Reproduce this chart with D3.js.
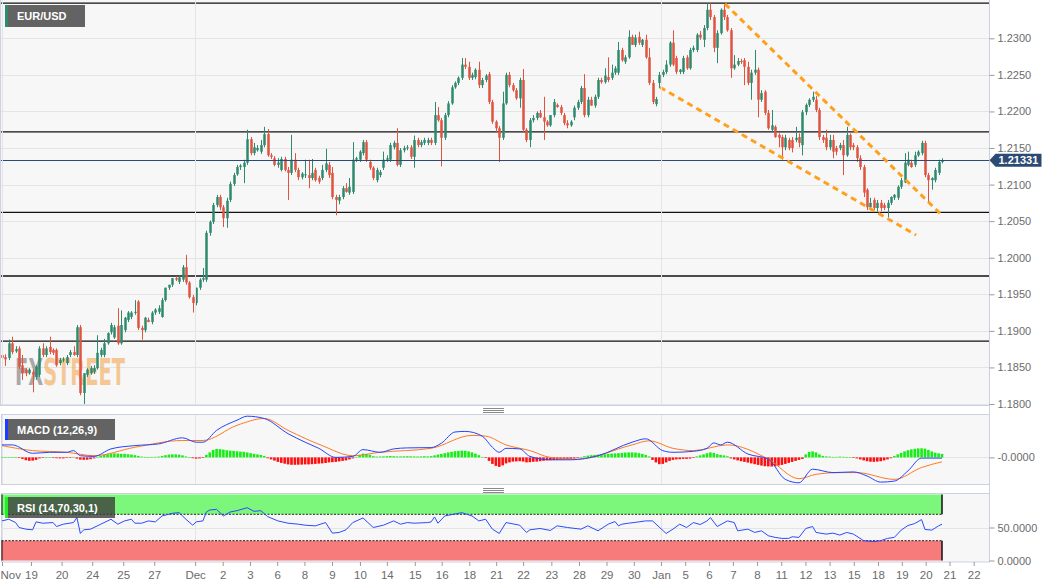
<!DOCTYPE html>
<html><head><meta charset="utf-8">
<script src="https://cdn.jsdelivr.net/npm/d3@7"></script>
<style>
html,body{margin:0;padding:0;background:#fff;}
svg{display:block;font-family:"Liberation Sans",Arial,sans-serif;}
</style></head><body>
<svg id="c" width="1060" height="587"></svg>
<script>
// ---------------- DATA (EUR/USD, 4h candles, Nov 18 2020 - Jan 20 2021) ----------------
const open = [
1.1867,1.1864,1.1863,1.1883,1.1872,1.1876,1.1853,1.1847,1.1842,1.1844,
1.1837,1.1840,1.1876,1.1867,1.1878,1.1874,1.1874,1.1856,1.1860,1.1856,
1.1867,1.1871,1.1867,1.1905,1.1815,1.1840,1.1842,1.1844,1.1849,1.1867,
1.1867,1.1883,1.1898,1.1891,1.1907,1.1883,1.1901,1.1915,1.1919,1.1925,
1.1940,1.1904,1.1901,1.1915,1.1912,1.1925,1.1926,1.1919,1.1942,1.1959,
1.1963,1.1972,1.1967,1.1970,1.1987,1.1966,1.1946,1.1938,1.1959,1.1970,
1.1970,1.2034,1.2049,1.2072,1.2083,1.2069,1.2054,1.2079,1.2101,1.2114,
1.2124,1.2124,1.2130,1.2162,1.2143,1.2147,1.2145,1.2154,1.2169,1.2140,
1.2136,1.2127,1.2120,1.2135,1.2120,1.2116,1.2134,1.2120,1.2110,1.2113,
1.2113,1.2109,1.2120,1.2109,1.2109,1.2120,1.2127,1.2116,1.2083,1.2078,
1.2083,1.2095,1.2089,1.2090,1.2134,1.2134,1.2143,1.2158,1.2131,1.2123,
1.2106,1.2113,1.2123,1.2134,1.2134,1.2151,1.2157,1.2127,1.2147,1.2150,
1.2151,1.2138,1.2161,1.2154,1.2157,1.2157,1.2161,1.2157,1.2195,1.2188,
1.2164,1.2195,1.2211,1.2233,1.2239,1.2246,1.2264,1.2261,1.2246,1.2247,
1.2257,1.2236,1.2243,1.2251,1.2213,1.2186,1.2177,1.2164,1.2211,1.2250,
1.2236,1.2229,1.2218,1.2243,1.2175,1.2161,1.2188,1.2191,1.2198,1.2192,
1.2186,1.2181,1.2195,1.2209,1.2206,1.2195,1.2184,1.2181,1.2192,1.2205,
1.2213,1.2232,1.2195,1.2216,1.2208,1.2220,1.2243,1.2240,1.2247,1.2246,
1.2253,1.2253,1.2284,1.2268,1.2274,1.2302,1.2291,1.2302,1.2291,1.2298,
1.2274,1.2239,1.2210,1.2239,1.2250,1.2254,1.2264,1.2294,1.2273,1.2254,
1.2254,1.2274,1.2259,1.2284,1.2284,1.2305,1.2298,1.2314,1.2339,1.2329,
1.2287,1.2307,1.2339,1.2329,1.2311,1.2259,1.2264,1.2269,1.2270,1.2261,
1.2239,1.2253,1.2257,1.2216,1.2227,1.2198,1.2175,1.2179,1.2168,1.2165,
1.2151,1.2161,1.2161,1.2161,1.2165,1.2154,1.2199,1.2209,1.2216,1.2216,
1.2202,1.2165,1.2164,1.2151,1.2161,1.2150,1.2150,1.2154,1.2140,1.2168,
1.2154,1.2151,1.2136,1.2124,1.2093,1.2069,1.2079,1.2068,1.2075,1.2072,
1.2068,1.2075,1.2082,1.2082,1.2097,1.2103,1.2127,1.2130,1.2127,1.2140,
1.2143,1.2157,1.2113,1.2106,1.2106,1.2116,1.2131];
const high = [
1.1870,1.1868,1.1888,1.1892,1.1879,1.1879,1.1867,1.1849,1.1849,1.1847,
1.1853,1.1879,1.1883,1.1879,1.1892,1.1876,1.1876,1.1863,1.1864,1.1867,
1.1874,1.1879,1.1908,1.1908,1.1842,1.1849,1.1852,1.1853,1.1894,1.1877,
1.1889,1.1898,1.1911,1.1908,1.1931,1.1928,1.1919,1.1927,1.1927,1.1942,
1.1942,1.1907,1.1919,1.1918,1.1927,1.1931,1.1935,1.1945,1.1959,1.1963,
1.1972,1.1975,1.1976,1.1990,1.2004,1.1968,1.1949,1.1959,1.1972,1.1986,
1.2037,1.2051,1.2075,1.2086,1.2086,1.2072,1.2082,1.2104,1.2116,1.2127,
1.2128,1.2134,1.2175,1.2165,1.2157,1.2154,1.2161,1.2179,1.2176,1.2143,
1.2139,1.2136,1.2138,1.2138,1.2124,1.2168,1.2143,1.2123,1.2117,1.2134,
1.2134,1.2135,1.2123,1.2112,1.2127,1.2149,1.2131,1.2124,1.2086,1.2086,
1.2098,1.2102,1.2109,1.2158,1.2138,1.2147,1.2161,1.2161,1.2134,1.2125,
1.2123,1.2120,1.2145,1.2140,1.2157,1.2160,1.2177,1.2150,1.2153,1.2154,
1.2154,1.2167,1.2164,1.2161,1.2164,1.2164,1.2164,1.2213,1.2206,1.2191,
1.2198,1.2214,1.2236,1.2241,1.2248,1.2273,1.2273,1.2268,1.2253,1.2259,
1.2268,1.2246,1.2251,1.2254,1.2216,1.2188,1.2180,1.2227,1.2253,1.2254,
1.2239,1.2232,1.2246,1.2258,1.2177,1.2191,1.2195,1.2200,1.2202,1.2220,
1.2188,1.2195,1.2217,1.2211,1.2209,1.2198,1.2188,1.2188,1.2208,1.2216,
1.2235,1.2251,1.2220,1.2220,1.2223,1.2246,1.2246,1.2259,1.2274,1.2264,
1.2262,1.2295,1.2287,1.2277,1.2311,1.2305,1.2305,1.2309,1.2299,1.2305,
1.2287,1.2243,1.2220,1.2254,1.2257,1.2270,1.2296,1.2311,1.2276,1.2258,
1.2276,1.2277,1.2287,1.2290,1.2307,1.2310,1.2318,1.2348,1.2348,1.2332,
1.2311,1.2341,1.2347,1.2332,1.2314,1.2277,1.2273,1.2272,1.2273,1.2268,
1.2257,1.2284,1.2260,1.2229,1.2229,1.2202,1.2202,1.2181,1.2170,1.2168,
1.2168,1.2164,1.2165,1.2179,1.2170,1.2202,1.2211,1.2218,1.2227,1.2221,
1.2205,1.2168,1.2175,1.2168,1.2168,1.2153,1.2157,1.2161,1.2179,1.2170,
1.2157,1.2154,1.2140,1.2127,1.2095,1.2082,1.2082,1.2079,1.2079,1.2075,
1.2079,1.2084,1.2087,1.2099,1.2109,1.2143,1.2145,1.2134,1.2145,1.2147,
1.2160,1.2160,1.2116,1.2110,1.2123,1.2134,1.2136];
const low = [
1.1860,1.1852,1.1860,1.1868,1.1870,1.1848,1.1833,1.1838,1.1840,1.1816,
1.1833,1.1837,1.1864,1.1864,1.1868,1.1867,1.1851,1.1853,1.1857,1.1853,
1.1864,1.1866,1.1864,1.1812,1.1800,1.1837,1.1840,1.1841,1.1847,1.1864,
1.1864,1.1881,1.1895,1.1889,1.1881,1.1881,1.1898,1.1912,1.1916,1.1922,
1.1901,1.1888,1.1898,1.1912,1.1909,1.1922,1.1923,1.1918,1.1940,1.1956,
1.1960,1.1968,1.1964,1.1967,1.1963,1.1944,1.1925,1.1935,1.1956,1.1967,
1.1967,1.2030,1.2046,1.2069,1.2065,1.2042,1.2041,1.2076,1.2098,1.2112,
1.2120,1.2102,1.2127,1.2140,1.2140,1.2145,1.2142,1.2151,1.2138,1.2135,
1.2125,1.2123,1.2118,1.2118,1.2079,1.2113,1.2117,1.2106,1.2107,1.2109,
1.2095,1.2106,1.2104,1.2101,1.2106,1.2117,1.2109,1.2080,1.2058,1.2073,
1.2080,1.2089,1.2086,1.2087,1.2131,1.2131,1.2140,1.2131,1.2120,1.2106,
1.2103,1.2110,1.2120,1.2131,1.2131,1.2148,1.2125,1.2124,1.2144,1.2147,
1.2135,1.2123,1.2151,1.2151,1.2154,1.2154,1.2154,1.2154,1.2186,1.2125,
1.2161,1.2192,1.2209,1.2231,1.2236,1.2243,1.2258,1.2243,1.2243,1.2244,
1.2232,1.2232,1.2240,1.2210,1.2183,1.2171,1.2131,1.2161,1.2209,1.2233,
1.2227,1.2216,1.2205,1.2172,1.2158,1.2151,1.2185,1.2188,1.2191,1.2161,
1.2179,1.2179,1.2192,1.2205,1.2195,1.2181,1.2177,1.2179,1.2188,1.2202,
1.2210,1.2192,1.2192,1.2208,1.2205,1.2217,1.2238,1.2238,1.2240,1.2243,
1.2250,1.2250,1.2268,1.2265,1.2272,1.2291,1.2288,1.2291,1.2288,1.2272,
1.2236,1.2210,1.2207,1.2232,1.2247,1.2251,1.2261,1.2262,1.2251,1.2251,
1.2251,1.2257,1.2257,1.2281,1.2281,1.2298,1.2288,1.2311,1.2325,1.2281,
1.2266,1.2305,1.2325,1.2309,1.2246,1.2257,1.2262,1.2265,1.2236,1.2236,
1.2216,1.2250,1.2192,1.2213,1.2195,1.2175,1.2172,1.2164,1.2151,1.2134,
1.2147,1.2147,1.2144,1.2158,1.2151,1.2140,1.2195,1.2206,1.2213,1.2199,
1.2161,1.2157,1.2147,1.2147,1.2136,1.2140,1.2147,1.2113,1.2138,1.2147,
1.2147,1.2131,1.2120,1.2083,1.2065,1.2065,1.2065,1.2063,1.2064,1.2065,
1.2055,1.2072,1.2079,1.2079,1.2094,1.2102,1.2125,1.2123,1.2124,1.2138,
1.2140,1.2110,1.2075,1.2093,1.2103,1.2113,1.2129];
const close = [
1.1863,1.1861,1.1883,1.1871,1.1875,1.1851,1.1842,1.1842,1.1847,1.1840,
1.1851,1.1876,1.1867,1.1876,1.1871,1.1870,1.1853,1.1860,1.1861,1.1864,
1.1871,1.1867,1.1905,1.1815,1.1842,1.1847,1.1849,1.1849,1.1870,1.1874,
1.1883,1.1897,1.1908,1.1905,1.1883,1.1908,1.1918,1.1925,1.1925,1.1926,
1.1904,1.1901,1.1918,1.1912,1.1925,1.1929,1.1931,1.1942,1.1959,1.1963,
1.1972,1.1970,1.1973,1.1987,1.1966,1.1946,1.1938,1.1959,1.1970,1.1972,
1.2034,1.2049,1.2072,1.2083,1.2069,1.2054,1.2078,1.2101,1.2113,1.2124,
1.2126,1.2130,1.2162,1.2143,1.2151,1.2150,1.2154,1.2169,1.2140,1.2138,
1.2127,1.2130,1.2135,1.2120,1.2116,1.2134,1.2120,1.2110,1.2115,1.2114,
1.2109,1.2116,1.2106,1.2104,1.2120,1.2129,1.2113,1.2083,1.2079,1.2083,
1.2095,1.2090,1.2097,1.2134,1.2136,1.2145,1.2158,1.2134,1.2123,1.2109,
1.2120,1.2117,1.2134,1.2136,1.2154,1.2157,1.2127,1.2147,1.2150,1.2151,
1.2138,1.2161,1.2154,1.2158,1.2161,1.2161,1.2157,1.2195,1.2188,1.2164,
1.2195,1.2211,1.2233,1.2239,1.2246,1.2264,1.2261,1.2246,1.2250,1.2257,
1.2236,1.2243,1.2249,1.2213,1.2186,1.2177,1.2164,1.2211,1.2250,1.2236,
1.2229,1.2218,1.2243,1.2175,1.2161,1.2188,1.2191,1.2198,1.2192,1.2186,
1.2181,1.2195,1.2213,1.2206,1.2198,1.2184,1.2181,1.2186,1.2205,1.2213,
1.2232,1.2195,1.2216,1.2208,1.2220,1.2243,1.2240,1.2249,1.2243,1.2253,
1.2259,1.2284,1.2270,1.2274,1.2302,1.2291,1.2301,1.2294,1.2298,1.2274,
1.2239,1.2213,1.2217,1.2250,1.2254,1.2264,1.2294,1.2264,1.2254,1.2257,
1.2273,1.2259,1.2284,1.2287,1.2305,1.2301,1.2314,1.2339,1.2329,1.2287,
1.2307,1.2339,1.2329,1.2311,1.2259,1.2264,1.2269,1.2268,1.2261,1.2239,
1.2253,1.2257,1.2216,1.2225,1.2198,1.2177,1.2181,1.2165,1.2164,1.2151,
1.2164,1.2150,1.2150,1.2164,1.2157,1.2199,1.2209,1.2216,1.2220,1.2202,
1.2165,1.2161,1.2151,1.2161,1.2145,1.2145,1.2154,1.2140,1.2168,1.2151,
1.2151,1.2136,1.2124,1.2089,1.2069,1.2075,1.2068,1.2075,1.2068,1.2068,
1.2075,1.2083,1.2086,1.2097,1.2106,1.2130,1.2134,1.2124,1.2140,1.2145,
1.2157,1.2113,1.2106,1.2109,1.2120,1.2131,1.21331];

const lastPrice = 1.21331;
const priceTicks = [1.18,1.185,1.19,1.195,1.20,1.205,1.21,1.215,1.22,1.225,1.23];
const srLevels = [1.2348, 1.2172, 1.2062, 1.1975, 1.1886];
// falling wedge trend lines: [candle index, price]
const wedgeUpper = [[212.3, 1.2347], [276, 1.2058]];
const wedgeLower = [[193.2, 1.2233], [268.4, 1.2031]];

const xTickIdx = [0,8.5,17.5,26.5,35.6,44.7,56.7,64.8,72.8,80.8,88.8,96.9,105.1,113.0,121.2,129.1,137.2,145.1,153.0,
  161.3,169.4,177.5,185.5,193.5,200.6,207.6,214.6,221.7,228.8,235.9,243.0,250.1,257.2,264.2,271.2,278.2,285.3];
const xTickLabels = ["Nov","19","20","24","25","27","Dec","2","3","6","8","9","10","14","15","16","18","21","22",
  "23","28","29","30","Jan","5","6","7","8","11","12","13","15","18","19","20","21","22"];

// MACD (12,26,9) – values in units of 0.0001, [candle index, value]
const MACD_UNIT = 1e-4;
const macdLine = [[0,12.5],[3,12.5],[9,4.1],[14,5.1],[19,5.1],[21,6.8],[23,1.7],[27,1.0],[32,8.5],[39,11.8],[46,13.5],
 [53,19.6],[57,15.2],[59,15.2],[63,27],[69,37.2],[72,41.2],[77,38.9],[84,23.7],[89,15.2],[93,9.1],[98,0],[103,1.0],
 [106,7.8],[111,5.1],[115,8.5],[119,9.5],[126,9.8],[129,14.2],[133,25.4],[136,26],[141,21.3],[144,10.1],[146,5.1],
 [148,9.1],[152,8.5],[155,1.0],[161,-2.4],[167,-2.4],[175,1.7],[185,15.2],[189,18.6],[194,6.8],[197,5.1],[203,6.1],
 [207,9.1],[209,14.5],[211,12.5],[213,15.2],[219,3.4],[225,-1.7],[230,-22],[234,-25.4],[238,-11.8],[244,-15.2],
 [250,-14.5],[254,-18.6],[258,-24.7],[262,-23.7],[266,-13.5],[270,-0.7],[276,-0.7]];
const macdSignal = [[0,11.8],[9,6.8],[19,5.1],[27,1.7],[39,10.1],[53,16.9],[59,16.9],[69,32.1],[77,38.9],[84,27],
 [94,11.8],[103,1.7],[111,5.1],[126,9.1],[138,22],[142,21.3],[148,12.5],[155,6.8],[161,0],[169,-1.7],[185,12.5],
 [190,16.6],[197,9.1],[203,6.8],[213,12.5],[225,-1.7],[234,-21.3],[239,-16.9],[246,-15.2],[251,-15.2],[262,-22],
 [270,-10.1],[276,-4.4]];
const macdHist = [
 0.3,0.3,0.2,0.2,0.1,-0.3,-1.5,-2.8,-3.4,-3.2,
 -2.5,-1.0,-0.3,0.2,0.2,-0.2,-0.8,-1.0,-1.0,-0.6,
 -0.2,0.5,-1.2,-2.2,-2.4,-2.3,-1.8,-1.0,0.5,1.5,
 2.5,3.2,3.8,4.0,3.8,3.5,3.5,3.2,2.8,2.2,
 1.5,0.8,0.5,0.4,0.5,0.6,0.8,1.5,2.2,2.8,
 3.0,3.0,2.7,2.0,1.0,0.2,-0.8,-1.2,-1.0,-0.5,
 2.5,5.0,7.5,8.5,8.3,7.8,7.2,6.8,6.5,6.2,
 5.8,5.6,5.0,4.2,3.6,3.0,2.4,1.5,-0.8,-2.0,
 -3.2,-4.5,-5.5,-6.3,-7.0,-7.4,-7.4,-7.3,-7.2,-7.0,
 -7.0,-6.8,-6.5,-6.2,-6.0,-5.6,-5.0,-4.8,-4.5,-4.0,
 -3.5,-3.0,-2.0,-1.0,0.5,2.5,3.8,3.5,2.5,1.2,
 0.8,0.9,1.0,1.2,1.4,1.2,1.0,1.0,1.1,1.2,
 1.1,1.0,0.9,1.0,1.2,1.0,1.3,2.0,2.8,3.5,
 4.2,5.0,5.6,6.2,6.5,6.8,6.6,6.0,5.0,3.8,
 2.2,0.5,-0.5,-3.5,-6.5,-8.5,-9.5,-8.0,-6.0,-5.0,
 -4.2,-4.0,-3.8,-4.2,-5.0,-4.8,-4.4,-4.2,-3.8,-3.4,
 -3.0,-2.8,-2.6,-2.4,-2.2,-2.0,-1.8,-1.5,-1.0,-0.5,
 0.5,1.2,1.8,2.2,2.5,2.8,3.0,3.2,3.5,3.8,
 4.0,4.2,4.5,4.8,5.0,5.0,4.8,4.2,3.5,2.5,
 1.0,-2.5,-5.0,-6.8,-6.5,-5.0,-3.5,-2.5,-2.0,-1.8,
 -1.5,-1.5,-1.2,-0.5,1.0,2.0,3.0,4.2,5.0,4.5,
 3.2,2.5,2.0,1.2,-1.0,-2.0,-3.0,-3.8,-4.5,-5.2,
 -6.0,-6.8,-7.5,-8.2,-8.8,-9.0,-9.1,-8.8,-8.2,-7.5,
 -6.5,-5.5,-4.5,-3.5,-2.5,-1.5,3.0,5.5,6.0,5.0,
 3.0,1.5,1.0,0.8,0.5,0.5,0.8,0.6,0.3,0.2,
 -0.3,-1.0,-2.0,-3.0,-3.8,-4.3,-4.4,-4.2,-3.8,-3.0,
 -2.0,-0.8,1.5,3.0,4.5,6.0,7.2,8.0,8.6,9.0,
 9.1,8.8,7.5,6.0,4.8,4.0,3.5];

// RSI (14) – [candle index, value]
const rsiLine = [[0,60],[2,62.5],[4,57.5],[5,50],[7,47.5],[9,46.5],[10,58.5],[12,56.5],[15,57.5],[16,51.5],[18,55],
 [21,57.5],[22,65],[23,41],[24,46.5],[26,47.5],[29,55],[32,62.5],[34,55],[36,60],[38,62.5],[39,56.5],[41,56.5],
 [43,60],[45,58.5],[47,67.5],[50,71.5],[52,72.5],[54,62.5],[56,53.5],[57,58.5],[59,60],[60,73.5],[61,76.5],
 [63,77.5],[65,67.5],[67,73.5],[69,75.5],[72,80],[74,74.5],[76,75.5],[78,66.5],[81,60],[84,56.5],[87,55],
 [89,53.5],[92,52.5],[95,57.5],[97,41.5],[99,42.5],[101,46.5],[103,57.5],[106,64.5],[109,50],[112,53.5],
 [115,60],[117,55],[119,57.5],[121,56.5],[125,57.5],[126,58.5],[127,66],[128,56.5],[130,67.5],[135,72.5],
 [138,67.5],[140,60],[142,62.5],[144,47.5],[146,41],[148,57.5],[152,53.5],[154,42.5],[155,46.5],[158,48.5],
 [161,45.5],[163,52.5],[166,50],[170,47.5],[172,52.5],[175,45],[178,55],[180,59],[181,52.5],[182,55],[184,56.5],
 [187,58.5],[189,60],[191,60],[195,41],[197,47.5],[199,55],[201,50],[203,57.5],[205,54.5],[207,60],[208,65],
 [210,51.5],[213,60],[215,57.5],[216,45],[219,47.5],[221,42.5],[223,45],[225,37.5],[227,35],[229,33.5],
 [231,33.5],[232,36],[234,35],[236,48.5],[238,51.5],[239,42.5],[242,40],[244,41.5],[246,38.5],[248,42.5],
 [250,40],[253,30],[256,28.5],[258,30],[260,33.5],[262,35],[264,46],[266,53],[268,56],[270,62],[271,47],
 [273,46],[275,52.5],[276,55]];
const rsiTicks = [0, 50];
const rsiBands = {over: 70, under: 30};

// ---------------- DRAWING ----------------
const svg = d3.select("#c");
const FONT = '"Liberation Sans", Arial, sans-serif';
const UP = "#2e8a6e", DOWN = "#e0533f", GRID = "#e4e4e4", BORDER = "#cbd1e2";
const N = open.length;
const PL = 1, PR = 989.5;

const x = d3.scaleLinear().domain([0, N - 1]).range([2, 942]);
const y = d3.scaleLinear().domain([1.18, 1.23]).range([404, 38.3]);
const ym = d3.scaleLinear().domain([-27e-4, 43e-4]).range([484.4, 414.4]);
const yr = d3.scaleLinear().domain([0, 100]).range([560.5, 494.5]);

svg.append("rect").attr("width", 1060).attr("height", 587).attr("fill", "#fff");

const defs = svg.append("defs");
function clip(id, y0, y1) {
  defs.append("clipPath").attr("id", id).append("rect")
    .attr("x", PL).attr("y", y0).attr("width", PR - PL).attr("height", y1 - y0);
}
clip("cMain", 0, 405); clip("cMacd", 414.5, 484.5); clip("cRsi", 493.5, 562);

// two-colour watermark gradient (gray "FX", orange "STREET")
const wg = defs.append("linearGradient").attr("id", "wmGrad")
  .attr("gradientUnits", "userSpaceOnUse").attr("x1", 15).attr("x2", 125).attr("y1", 0).attr("y2", 0);
wg.append("stop").attr("offset", 0).attr("stop-color", "#8e8e8e").attr("stop-opacity", 0.75);
wg.append("stop").attr("offset", 0.275).attr("stop-color", "#8e8e8e").attr("stop-opacity", 0.75);
wg.append("stop").attr("offset", 0.275).attr("stop-color", "#f2b26a").attr("stop-opacity", 0.7);
wg.append("stop").attr("offset", 1).attr("stop-color", "#f2b26a").attr("stop-opacity", 0.7);

// panels
svg.append("rect").attr("x", PL).attr("y", 0).attr("width", PR - PL).attr("height", 405).attr("fill", "#f7f7f7");
svg.append("line").attr("x1", 0.5).attr("x2", 0.5).attr("y1", 0).attr("y2", 405).attr("stroke", BORDER);
svg.append("line").attr("x1", 0).attr("x2", PR).attr("y1", 405.5).attr("y2", 405.5).attr("stroke", BORDER);
svg.append("rect").attr("x", 1.5).attr("y", 414.5).attr("width", PR - 1.5).attr("height", 70)
  .attr("fill", "#f7f7f7").attr("stroke", BORDER);
svg.append("rect").attr("x", 1.5).attr("y", 493.5).attr("width", PR - 1.5).attr("height", 68.5)
  .attr("fill", "#f7f7f7").attr("stroke", BORDER);

// horizontal grid (main)
const gMain = svg.append("g").attr("clip-path", "url(#cMain)");
gMain.selectAll(".hg").data(priceTicks).join("line")
  .attr("x1", PL).attr("x2", PR).attr("y1", d => Math.round(y(d)) + 0.5).attr("y2", d => Math.round(y(d)) + 0.5)
  .attr("stroke", GRID);

// vertical month grid lines in all panels
const monthIdx = xTickIdx.filter((d, i) => isNaN(+xTickLabels[i]));
[[0, 405], [415, 484], [494, 561.5]].forEach(([a, b]) => {
  svg.selectAll(null).data(monthIdx).join("line")
    .attr("x1", d => Math.round(x(d)) + 0.5).attr("x2", d => Math.round(x(d)) + 0.5)
    .attr("y1", a).attr("y2", b).attr("stroke", GRID);
});

// watermark (single text, two colours via gradient)
gMain.append("text").attr("x", 15).attr("y", 385)
  .attr("font-family", '"Liberation Sans Narrow","DejaVu Sans Condensed",sans-serif')
  .attr("font-weight", "bold").attr("font-size", 37)
  .attr("textLength", 110).attr("lengthAdjust", "spacingAndGlyphs")
  .attr("fill", "url(#wmGrad)").text("FXSTREET");

// support / resistance lines
gMain.selectAll(".sr").data(srLevels).join("line")
  .attr("x1", PL).attr("x2", PR).attr("y1", d => y(d)).attr("y2", d => y(d))
  .attr("stroke", "#111").attr("stroke-width", 1.3);

// candles
const cg = gMain.append("g");
const idx = d3.range(N);
cg.selectAll(".w").data(idx).join("line")
  .attr("x1", i => Math.round(x(i)) + 0.5).attr("x2", i => Math.round(x(i)) + 0.5)
  .attr("y1", i => y(high[i])).attr("y2", i => y(low[i]))
  .attr("stroke", i => close[i] >= open[i] ? UP : DOWN).attr("stroke-width", 1);
cg.selectAll(".b").data(idx).join("rect")
  .attr("x", i => Math.round(x(i)) + 0.5 - 1.25).attr("width", 2.5)
  .attr("y", i => Math.min(y(open[i]), y(close[i])))
  .attr("height", i => Math.max(1, Math.abs(y(open[i]) - y(close[i]))))
  .attr("fill", i => close[i] >= open[i] ? UP : DOWN);

// last price line
gMain.append("line").attr("x1", PL).attr("x2", PR)
  .attr("y1", Math.round(y(lastPrice)) + 0.5).attr("y2", Math.round(y(lastPrice)) + 0.5)
  .attr("stroke", "#2b4a74").attr("stroke-width", 1);

// wedge
const wl = d3.line().x(d => x(d[0])).y(d => y(d[1]));
[wedgeUpper, wedgeLower].forEach(w => {
  gMain.append("path").attr("d", wl(w)).attr("fill", "none")
    .attr("stroke", "#ff9f1a").attr("stroke-width", 3).attr("stroke-dasharray", "6,4.5");
});

// price axis
svg.append("line").attr("x1", PR).attr("x2", PR).attr("y1", 0).attr("y2", 562).attr("stroke", BORDER);
function styleAxis(g) {
  g.select(".domain").remove();
  g.selectAll(".tick line").attr("stroke", "#9a9a9a");
  g.selectAll(".tick text").attr("fill", "#6b6b6b").attr("font-size", 11).attr("font-family", FONT);
}
svg.append("g").attr("transform", `translate(${PR},0)`)
  .call(d3.axisRight(y).tickValues(priceTicks).tickSize(5).tickPadding(3).tickFormat(d3.format(".4f")))
  .call(styleAxis);

// last price tag
const ly = y(lastPrice);
svg.append("path")
  .attr("d", `M${PR},${ly} L${PR + 6},${ly - 6.5} L${PR + 52},${ly - 6.5} L${PR + 52},${ly + 6.5} L${PR + 6},${ly + 6.5} Z`)
  .attr("fill", "#2b4a74");
svg.append("text").attr("x", PR + 9).attr("y", ly + 4).attr("fill", "#fff")
  .attr("font-size", 11).attr("font-weight", "bold").attr("font-family", FONT).text(d3.format(".5f")(lastPrice));

// symbol label
function labelBox(x0, y0, w, h, accent, txt, fillOp) {
  svg.append("rect").attr("x", x0).attr("y", y0).attr("width", w).attr("height", h)
    .attr("fill", "#3a3a3a").attr("fill-opacity", fillOp);
  svg.append("rect").attr("x", x0).attr("y", y0).attr("width", 3).attr("height", h).attr("fill", accent);
  svg.append("text").attr("x", x0 + 12).attr("y", y0 + h / 2 + 4).attr("fill", "#fff")
    .attr("font-size", 11).attr("font-weight", "bold").attr("font-family", FONT).text(txt);
}
labelBox(5, 5, 80, 22, "#2e8a6e", "EUR/USD", 0.78);

// splitters
[408, 488].forEach(s => {
  [0, 2, 4].forEach(o => svg.append("line").attr("x1", 483).attr("x2", 504)
    .attr("y1", s + o + 0.5).attr("y2", s + o + 0.5).attr("stroke", "#8a8a8a"));
});

// ---------------- MACD ----------------
const gM = svg.append("g").attr("clip-path", "url(#cMacd)");
gM.append("line").attr("x1", PL).attr("x2", PR).attr("y1", Math.round(ym(0)) + 0.5).attr("y2", Math.round(ym(0)) + 0.5)
  .attr("stroke", GRID);
gM.selectAll(".h").data(macdHist).join("rect")
  .attr("x", (d, i) => x(i) - 1.3).attr("width", 2.6)
  .attr("y", d => Math.min(ym(0), ym(d * MACD_UNIT)))
  .attr("height", d => Math.max(0.6, Math.abs(ym(d * MACD_UNIT) - ym(0))))
  .attr("fill", d => d >= 0 ? "#14ee14" : "#ff1010");
const ml = d3.line().x(d => x(d[0])).y(d => ym(d[1] * MACD_UNIT)).curve(d3.curveMonotoneX);
gM.append("path").attr("d", ml(macdSignal)).attr("fill", "none").attr("stroke", "#ff7a1f").attr("stroke-width", 1);
gM.append("path").attr("d", ml(macdLine)).attr("fill", "none").attr("stroke", "#2444ff").attr("stroke-width", 1);
svg.append("g").attr("transform", `translate(${PR},0)`)
  .call(d3.axisRight(ym).tickValues([0]).tickSize(5).tickPadding(3).tickFormat(() => "-0.0000"))
  .call(styleAxis);
labelBox(5, 419, 110, 21, "#1b3dff", "MACD (12,26,9)", 0.78);

// ---------------- RSI ----------------
const gR = svg.append("g").attr("clip-path", "url(#cRsi)");
gR.append("line").attr("x1", PL).attr("x2", PR).attr("y1", Math.round(yr(50)) + 0.5).attr("y2", Math.round(yr(50)) + 0.5)
  .attr("stroke", GRID);
const xz0 = 1.5, xz1 = x(N - 1);
gR.append("rect").attr("x", xz0).attr("y", yr(100)).attr("width", xz1 - xz0).attr("height", yr(rsiBands.over) - yr(100))
  .attr("fill", "#7cf77c");
gR.append("rect").attr("x", xz0).attr("y", yr(rsiBands.under)).attr("width", xz1 - xz0).attr("height", yr(0) - yr(rsiBands.under))
  .attr("fill", "#f87b7b");
[rsiBands.over, rsiBands.under].forEach(v => gR.append("line").attr("x1", xz0).attr("x2", xz1)
  .attr("y1", yr(v)).attr("y2", yr(v)).attr("stroke", "#222").attr("stroke-dasharray", "2,1.5"));
[[100, rsiBands.over], [rsiBands.under, 0]].forEach(([a, b]) => {
  gR.append("line").attr("x1", xz1).attr("x2", xz1).attr("y1", yr(a)).attr("y2", yr(b)).attr("stroke", "#111").attr("stroke-width", 1.5);
  gR.append("line").attr("x1", xz0 + 0.5).attr("x2", xz0 + 0.5).attr("y1", yr(a)).attr("y2", yr(b)).attr("stroke", "#111").attr("stroke-width", 1);
});
const rl = d3.line().x(d => x(d[0])).y(d => yr(d[1]));
gR.append("path").attr("d", rl(rsiLine)).attr("fill", "none").attr("stroke", "#2a4bff").attr("stroke-width", 1);
svg.append("g").attr("transform", `translate(${PR},0)`)
  .call(d3.axisRight(yr).tickValues(rsiTicks).tickSize(5).tickPadding(3).tickFormat(d3.format(".4f")))
  .call(styleAxis);
labelBox(5, 497, 110, 21, "#22ee22", "RSI (14,70,30,1)", 0.78);

// ---------------- X axis ----------------
const xa = svg.append("g").attr("transform", "translate(0,562)")
  .call(d3.axisBottom(x).tickValues(xTickIdx).tickSize(4).tickPadding(5).tickFormat((d, i) => xTickLabels[i]))
  .call(styleAxis);
xa.selectAll(".tick text").attr("font-size", 11.5);
xa.selectAll(".tick").filter((d, i) => i === 0).select("text").attr("text-anchor", "start").attr("x", -2);
</script>
</body></html>
